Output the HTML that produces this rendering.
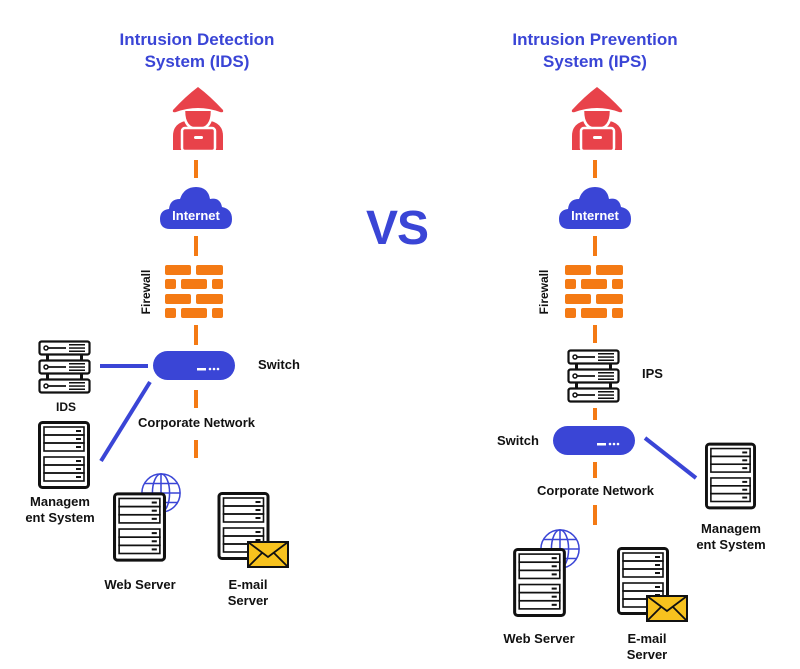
<!DOCTYPE html>
<html><head><meta charset="utf-8"><style>
html,body{margin:0;padding:0;background:#fff}
svg{display:block}
text{font-family:"Liberation Sans",sans-serif;font-weight:bold}
</style></head><body>
<svg width="800" height="669" viewBox="0 0 800 669" xmlns="http://www.w3.org/2000/svg">
<defs>
<symbol id="hacker" viewBox="0 0 60 66">
<path d="M5 64 L5 50 Q5 38 17 35 L43 35 Q55 38 55 50 L55 64 Z" fill="#e8424a"/>
<path d="M30 1 Q42 10 55 24 Q56 27 52 26 Q30 18 8 26 Q4 27 5 24 Q18 10 30 1 Z" fill="#e8424a"/>
<path d="M16 25 Q16 43 30 43 Q44 43 44 25" fill="#e8424a" stroke="#fff" stroke-width="2.5"/>
<rect x="14" y="42" width="33" height="23" rx="3" fill="#e8424a" stroke="#fff" stroke-width="2.5"/>
<rect x="26" y="50" width="9" height="3" rx="1.5" fill="#fff"/>
</symbol>
<symbol id="cloud" viewBox="0 0 72 44">
<path d="M10 44 Q0 44 0 34 Q0 25 9 24 Q10 14 20 14 Q24 2 36 2 Q48 2 50 14 Q60 12 62 22 Q72 24 72 34 Q72 44 62 44 Z" fill="#3a45d6"/>
</symbol>
<symbol id="fw" viewBox="0 0 58 53">
<g fill="#f47a14">
<rect x="0" y="0" width="26" height="10" rx="2"/><rect x="31" y="0" width="27" height="10" rx="2"/>
<rect x="0" y="14" width="11" height="10" rx="2"/><rect x="16" y="14" width="26" height="10" rx="2"/><rect x="47" y="14" width="11" height="10" rx="2"/>
<rect x="0" y="29" width="26" height="10" rx="2"/><rect x="31" y="29" width="27" height="10" rx="2"/>
<rect x="0" y="43" width="11" height="10" rx="2"/><rect x="16" y="43" width="26" height="10" rx="2"/><rect x="47" y="43" width="11" height="10" rx="2"/>
</g>
</symbol>
<symbol id="unit" viewBox="0 0 53 16">
<rect x="1.5" y="1.5" width="50" height="13" rx="2" fill="#fff" stroke="#111" stroke-width="2.2"/>
<circle cx="8" cy="8" r="2" fill="none" stroke="#111" stroke-width="1.5"/>
<line x1="10" y1="8" x2="28" y2="8" stroke="#111" stroke-width="1.8"/>
<g fill="#111"><rect x="31" y="4" width="16" height="1.5"/><rect x="31" y="7.3" width="16" height="1.5"/><rect x="31" y="10.5" width="16" height="1.5"/></g>
</symbol>
<symbol id="rack" viewBox="0 0 53 54">
<use href="#unit" x="0" y="0" width="53" height="16"/>
<use href="#unit" x="0" y="19" width="53" height="16"/>
<use href="#unit" x="0" y="38" width="53" height="16"/>
<rect x="8" y="15" width="3" height="5" fill="#111"/><rect x="42" y="15" width="3" height="5" fill="#111"/>
<rect x="8" y="34" width="3" height="5" fill="#111"/><rect x="42" y="34" width="3" height="5" fill="#111"/>
</symbol>
<symbol id="srv" viewBox="0 0 52 68">
<rect x="1.5" y="1.5" width="49" height="65" rx="3" fill="#fff" stroke="#111" stroke-width="3"/>
<g fill="none" stroke="#111" stroke-width="1.6">
<rect x="6" y="6" width="40" height="8"/><rect x="6" y="14" width="40" height="8"/><rect x="6" y="22" width="40" height="8"/>
<rect x="6" y="36" width="40" height="8"/><rect x="6" y="44" width="40" height="8"/><rect x="6" y="52" width="40" height="8"/>
</g>
<g fill="#111"><rect x="38" y="9" width="5" height="2"/><rect x="38" y="17" width="5" height="2"/><rect x="38" y="25" width="5" height="2"/>
<rect x="38" y="39" width="5" height="2"/><rect x="38" y="47" width="5" height="2"/><rect x="38" y="55" width="5" height="2"/></g>
</symbol>
<symbol id="globe" viewBox="0 0 44 44">
<g fill="none" stroke="#3a45d6" stroke-width="1.6">
<circle cx="22" cy="22" r="20"/><ellipse cx="22" cy="22" rx="9" ry="20"/>
<line x1="22" y1="2" x2="22" y2="42"/><line x1="2" y1="22" x2="42" y2="22"/>
<path d="M5 12 H39 M5 32 H39"/>
</g>
</symbol>
<symbol id="env" viewBox="0 0 42 27">
<rect x="1" y="1" width="40" height="25" fill="#f7c21e" stroke="#111" stroke-width="2"/>
<path d="M1 1 L21 16 L41 1 M1 26 L15 12 M41 26 L27 12" fill="none" stroke="#111" stroke-width="1.8"/>
</symbol>
</defs>

<!-- titles -->
<g fill="#3a45d6" font-size="17" text-anchor="middle">
<text x="197" y="45">Intrusion Detection</text>
<text x="197" y="67">System (IDS)</text>
<text x="595" y="45">Intrusion Prevention</text>
<text x="595" y="67">System (IPS)</text>
</g>
<text x="397" y="244" fill="#3a45d6" font-size="48" text-anchor="middle" letter-spacing="-1">VS</text>

<!-- LEFT -->
<g stroke="#f47a14" stroke-width="4">
<line x1="196" y1="160" x2="196" y2="178"/><line x1="196" y1="236" x2="196" y2="256"/>
<line x1="196" y1="325" x2="196" y2="345"/><line x1="196" y1="390" x2="196" y2="408"/>
<line x1="196" y1="440" x2="196" y2="458"/>
</g>
<use href="#hacker" x="168" y="86" width="60" height="66"/>
<use href="#cloud" x="160" y="185" width="72" height="44"/>
<text x="196" y="220" fill="#fff" font-size="13" text-anchor="middle">Internet</text>
<use href="#fw" x="165" y="265" width="58" height="53"/>
<text transform="translate(150,292) rotate(-90)" font-size="12" text-anchor="middle" fill="#111">Firewall</text>
<rect x="153" y="351" width="82" height="29" rx="14.5" fill="#3a45d6"/>
<g fill="#fff"><rect x="197" y="368" width="9" height="2.5"/><circle cx="210" cy="369" r="1.3"/><circle cx="214" cy="369" r="1.3"/><circle cx="218" cy="369" r="1.3"/></g>
<text x="258" y="369" font-size="13" fill="#111">Switch</text>
<use href="#rack" x="38" y="340" width="53" height="54"/>
<text x="66" y="411" font-size="12" fill="#111" text-anchor="middle">IDS</text>
<g stroke="#3a45d6" stroke-width="4">
<line x1="100" y1="366" x2="148" y2="366"/><line x1="150" y1="382" x2="101" y2="461"/>
</g>
<text x="138" y="427" font-size="13" fill="#111">Corporate Network</text>
<use href="#srv" x="38" y="421" width="52" height="68"/>
<text x="60" y="506" font-size="13" fill="#111" text-anchor="middle">Managem</text>
<text x="60" y="522" font-size="13" fill="#111" text-anchor="middle">ent System</text>
<use href="#globe" x="140" y="472" width="42" height="42"/>
<use href="#srv" x="113" y="492" width="53" height="70"/>
<text x="140" y="589" font-size="13" fill="#111" text-anchor="middle">Web Server</text>
<use href="#srv" x="217" y="492" width="53" height="68"/>
<use href="#env" x="247" y="541" width="42" height="27"/>
<text x="248" y="589" font-size="13" fill="#111" text-anchor="middle">E-mail</text>
<text x="248" y="605" font-size="13" fill="#111" text-anchor="middle">Server</text>

<!-- RIGHT -->
<g stroke="#f47a14" stroke-width="4">
<line x1="595" y1="160" x2="595" y2="178"/><line x1="595" y1="236" x2="595" y2="256"/>
<line x1="595" y1="325" x2="595" y2="343"/><line x1="595" y1="408" x2="595" y2="420"/>
<line x1="595" y1="462" x2="595" y2="478"/><line x1="595" y1="505" x2="595" y2="525"/>
</g>
<use href="#hacker" x="567" y="86" width="60" height="66"/>
<use href="#cloud" x="559" y="185" width="72" height="44"/>
<text x="595" y="220" fill="#fff" font-size="13" text-anchor="middle">Internet</text>
<use href="#fw" x="565" y="265" width="58" height="53"/>
<text transform="translate(548,292) rotate(-90)" font-size="12" text-anchor="middle" fill="#111">Firewall</text>
<use href="#rack" x="567" y="349" width="53" height="54"/>
<text x="642" y="378" font-size="13" fill="#111">IPS</text>
<rect x="553" y="426" width="82" height="29" rx="14.5" fill="#3a45d6"/>
<g fill="#fff"><rect x="597" y="443" width="9" height="2.5"/><circle cx="610" cy="444" r="1.3"/><circle cx="614" cy="444" r="1.3"/><circle cx="618" cy="444" r="1.3"/></g>
<text x="497" y="445" font-size="13" fill="#111">Switch</text>
<line x1="645" y1="438" x2="696" y2="478" stroke="#3a45d6" stroke-width="4"/>
<text x="537" y="495" font-size="13" fill="#111">Corporate Network</text>
<use href="#srv" x="705" y="442" width="51" height="68"/>
<text x="731" y="533" font-size="13" fill="#111" text-anchor="middle">Managem</text>
<text x="731" y="549" font-size="13" fill="#111" text-anchor="middle">ent System</text>
<use href="#globe" x="539" y="528" width="42" height="42"/>
<use href="#srv" x="513" y="548" width="53" height="69"/>
<text x="539" y="643" font-size="13" fill="#111" text-anchor="middle">Web Server</text>
<use href="#srv" x="616" y="547" width="54" height="68"/>
<use href="#env" x="646" y="595" width="42" height="27"/>
<text x="647" y="643" font-size="13" fill="#111" text-anchor="middle">E-mail</text>
<text x="647" y="659" font-size="13" fill="#111" text-anchor="middle">Server</text>
</svg>
</body></html>
